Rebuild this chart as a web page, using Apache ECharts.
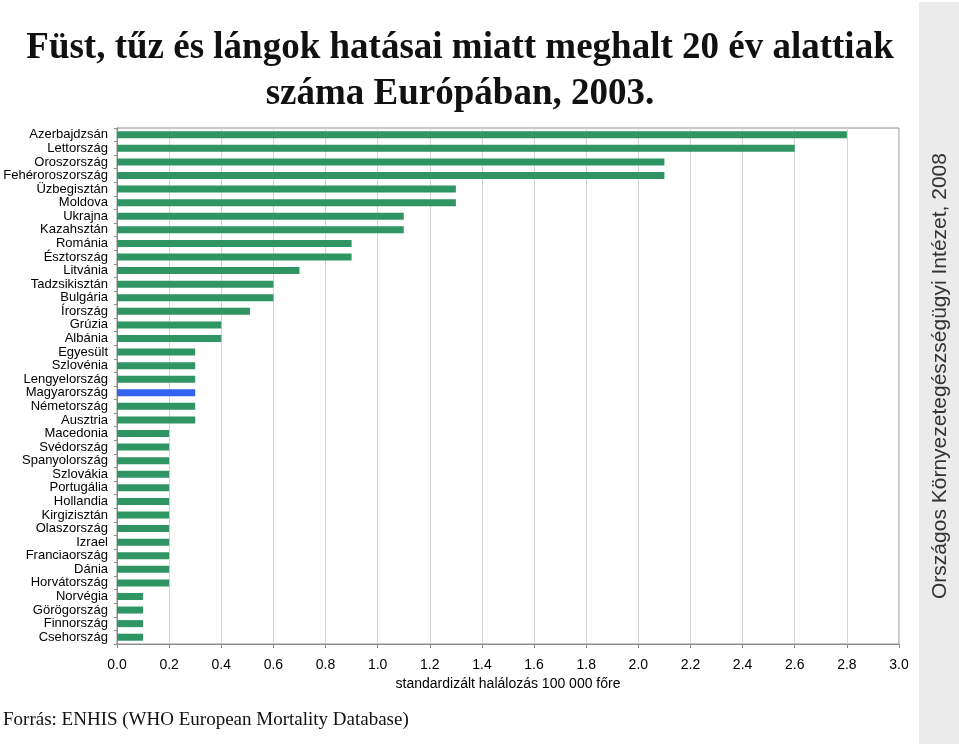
<!DOCTYPE html>
<html>
<head>
<meta charset="utf-8">
<script src="https://cdn.jsdelivr.net/npm/echarts@6/dist/echarts.min.js"></script>
<style>html,body{margin:0;padding:0;background:#fff;}#c{width:959px;height:744px;}</style>
</head>
<body>
<div id="c"></div>
<script>
const categories = ["Azerbajdzsán","Lettország","Oroszország","Fehéroroszország","Üzbegisztán","Moldova","Ukrajna","Kazahsztán","Románia","Észtország","Litvánia","Tadzsikisztán","Bulgária","Írország","Grúzia","Albánia","Egyesült","Szlovénia","Lengyelország","Magyarország","Németország","Ausztria","Macedonia","Svédország","Spanyolország","Szlovákia","Portugália","Hollandia","Kirgizisztán","Olaszország","Izrael","Franciaország","Dánia","Horvátország","Norvégia","Görögország","Finnország","Csehország"];
const values = [2.8,2.6,2.1,2.1,1.3,1.3,1.1,1.1,0.9,0.9,0.7,0.6,0.6,0.51,0.4,0.4,0.3,0.3,0.3,0.3,0.3,0.3,0.2,0.2,0.2,0.2,0.2,0.2,0.2,0.2,0.2,0.2,0.2,0.2,0.1,0.1,0.1,0.1];
const highlighted = "Magyarország";
const xTicks = {min: 0, max: 3, interval: 0.2};

const chart = echarts.init(document.getElementById('c'));
chart.setOption({
  backgroundColor: '#fff',
  animation: false,
  title: {
    text: 'Füst, tűz és lángok hatásai miatt meghalt 20 év alattiak\nszáma Európában, 2003.',
    left: 455, top: 20, textAlign: 'center',
    textStyle: {fontFamily: 'Liberation Serif', fontWeight: 'bold', fontSize: 37, lineHeight: 46, color: '#111'}
  },
  grid: {left: 117, right: 60, top: 128, bottom: 100, show: true, borderColor: '#8c8c8c', borderWidth: 1},
  xAxis: {
    type: 'value', min: xTicks.min, max: xTicks.max, interval: xTicks.interval,
    name: 'standardizált halálozás 100 000 főre', nameLocation: 'middle', nameGap: 32,
    nameTextStyle: {fontFamily: 'Liberation Sans', fontSize: 14, color: '#000'},
    axisLine: {show: true, lineStyle: {color: '#8c8c8c'}},
    axisTick: {show: true, length: 4, lineStyle: {color: '#8c8c8c'}},
    axisLabel: {fontFamily: 'Liberation Sans', fontSize: 14, color: '#000', margin: 14, formatter: v => v.toFixed(1)},
    splitLine: {show: true, lineStyle: {color: '#d3d3d3'}}
  },
  yAxis: {
    type: 'category', data: categories, inverse: true,
    axisLine: {show: true, lineStyle: {color: '#8c8c8c'}},
    axisTick: {show: true, length: 3, lineStyle: {color: '#8c8c8c'}},
    axisLabel: {fontFamily: 'Liberation Sans', fontSize: 13, color: '#000', margin: 9, interval: 0}
  },
  series: [{
    type: 'bar', barWidth: 7,
    data: values.map((v, i) => categories[i] === highlighted ? {value: v, itemStyle: {color: '#3163ef'}} : v),
    itemStyle: {color: '#2e9563'}
  }],
  graphic: [
    {type: 'rect', left: 919, top: 2, shape: {width: 40, height: 742}, style: {fill: '#ebebeb'}, z: -1},
    {type: 'text', x: 940, y: 376, rotation: Math.PI / 2, style: {text: 'Országos Környezetegészségügyi Intézet, 2008', fontFamily: 'Liberation Sans', fontSize: 21, fill: '#333', align: 'center', verticalAlign: 'middle'}},
    {type: 'text', left: 3, top: 711, style: {text: 'Forrás: ENHIS (WHO European Mortality Database)', fontFamily: 'Liberation Serif', fontSize: 19, fill: '#111'}}
  ]
});
</script>
</body>
</html>
